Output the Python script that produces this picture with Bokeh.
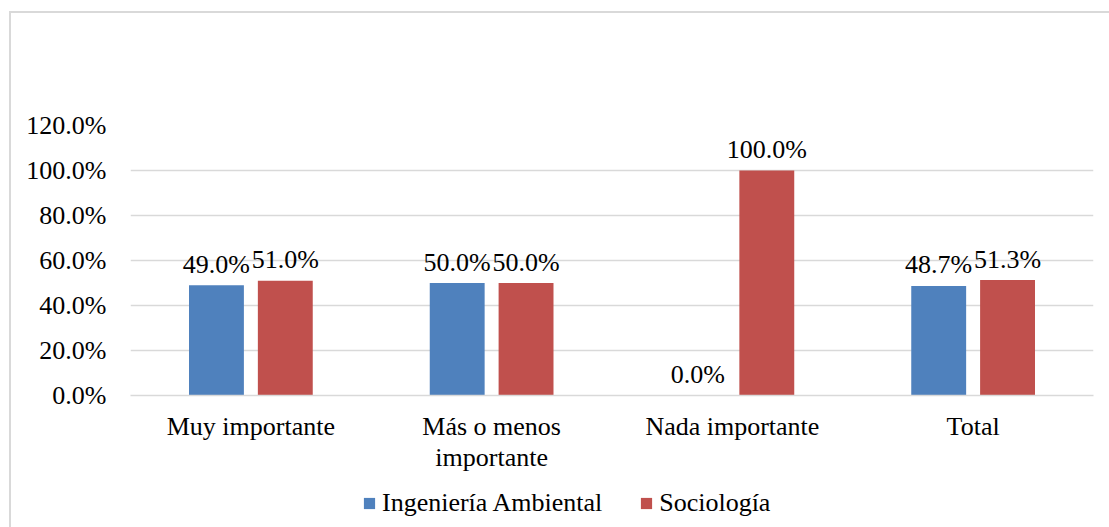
from bokeh.plotting import figure
from bokeh.layouts import column
from bokeh.models import ColumnDataSource, FixedTicker, PrintfTickFormatter, Legend, LegendItem, LabelSet
from bokeh.transform import dodge
from bokeh.embed import file_html
from bokeh.resources import INLINE

categories = ["Muy importante", "Más o menos\nimportante", "Nada importante", "Total"]
ing_ambiental = [49.0, 50.0, 0.0, 48.7]
sociologia = [51.0, 50.0, 100.0, 51.3]
series_names = ["Ingeniería Ambiental", "Sociología"]
y_ticks = [0, 20, 40, 60, 80, 100, 120]

FONT = "Liberation Serif"
FS = "26px"
BLUE = "#4F81BD"
RED = "#C0504D"
GRID = "#D9D9D9"

src = ColumnDataSource(dict(
    cat=categories,
    ing=ing_ambiental,
    soc=sociologia,
    ing_lbl=[f"{v:.1f}%" for v in ing_ambiental],
    soc_lbl=[f"{v:.1f}%" for v in sociologia],
))

p = figure(x_range=categories, y_range=(0, 120), width=1098, height=461,
           output_backend="svg", toolbar_location=None,
           min_border_left=119, min_border_right=16, min_border_top=112, min_border_bottom=74)
p.x_range.range_padding = 0
p.outline_line_color = None
p.background_fill_color = "white"

w = 0.228
off = 0.143
r1 = p.vbar(x=dodge("cat", -off, range=p.x_range), top="ing", width=w, source=src,
            fill_color=BLUE, line_color=None)
r2 = p.vbar(x=dodge("cat", off, range=p.x_range), top="soc", width=w, source=src,
            fill_color=RED, line_color=None)

for col, lbl, o in (("ing", "ing_lbl", -off), ("soc", "soc_lbl", off)):
    ls = LabelSet(x=dodge("cat", o, range=p.x_range), y=col, text=lbl, source=src,
                  text_align="center", text_baseline="middle", y_offset=21,
                  text_font=FONT, text_font_size=FS, text_color="#000000")
    p.add_layout(ls)

p.yaxis.ticker = FixedTicker(ticks=y_ticks)
p.yaxis.formatter = PrintfTickFormatter(format="%.1f%%")
p.yaxis.axis_line_color = None
p.yaxis.major_tick_line_color = None
p.yaxis.minor_tick_line_color = None
p.yaxis.major_label_text_font = FONT
p.yaxis.major_label_text_font_size = FS
p.yaxis.major_label_text_color = "#000000"
p.yaxis.major_label_standoff = 18

p.xaxis.axis_line_color = GRID
p.xaxis.axis_line_width = 1.5
p.xaxis.major_tick_line_color = None
p.xaxis.minor_tick_line_color = None
p.xaxis.major_label_text_font = FONT
p.xaxis.major_label_text_font_size = FS
p.xaxis.major_label_text_color = "#000000"
p.xaxis.major_label_text_line_height = 1.08
p.xaxis.major_label_standoff = 10
p.xaxis.major_label_orientation = "horizontal"

p.xgrid.grid_line_color = None
p.ygrid.grid_line_color = GRID
p.ygrid.grid_line_width = 1.5

# legend strip below the chart
lg = figure(width=1098, height=53, x_range=categories, y_range=(0, 120),
            output_backend="svg", toolbar_location=None,
            min_border_left=0, min_border_right=0, min_border_top=0, min_border_bottom=0)
lg.axis.visible = False
lg.grid.visible = False
lg.outline_line_color = None
k1 = lg.vbar(x="cat", top="ing", width=w, source=src, fill_color=BLUE, line_color=None, visible=False)
k2 = lg.vbar(x="cat", top="soc", width=w, source=src, fill_color=RED, line_color=None, visible=False)
legend = Legend(items=[LegendItem(label=series_names[0], renderers=[k1]),
                       LegendItem(label=series_names[1], renderers=[k2])],
                orientation="horizontal", location=(232, 9),
                label_text_font=FONT, label_text_font_size=FS, label_text_color="#000000",
                glyph_width=14, glyph_height=14, label_standoff=6, spacing=37,
                inactive_fill_alpha=0, click_policy="none",
                border_line_color=None, background_fill_alpha=0, padding=0, margin=0)
lg.add_layout(legend, "center")

layout = column(p, lg, spacing=0)
layout.margin = (11, 0, 0, 9)
layout.styles = {"border-top": "2px solid #D9D9D9", "border-left": "2px solid #D9D9D9"}

open("out.html", "w").write(file_html(layout, INLINE))
